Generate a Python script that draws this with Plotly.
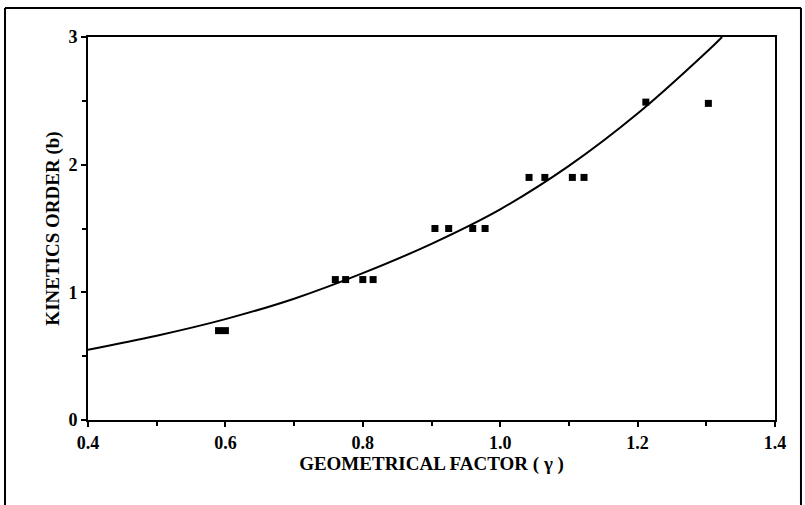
import plotly.graph_objects as go

# Measured kinetics order against geometrical factor
gamma = [0.59, 0.60,
         0.76, 0.775, 0.80, 0.815,
         0.905, 0.925, 0.96, 0.978,
         1.042, 1.065, 1.105, 1.122,
         1.212, 1.303]
order = [0.70, 0.70,
         1.10, 1.10, 1.10, 1.10,
         1.50, 1.50, 1.50, 1.50,
         1.90, 1.90, 1.90, 1.90,
         2.49, 2.48]

# Fitted trend curve
fit_gamma = [0.40, 0.50, 0.60, 0.70, 0.80, 0.90, 1.00, 1.10, 1.20, 1.30, 1.323]
fit_order = [0.55, 0.66, 0.79, 0.95, 1.15, 1.38, 1.65, 1.99, 2.40, 2.88, 3.00]

x_ticks = [0.4, 0.6, 0.8, 1.0, 1.2, 1.4]
x_labels = ["0.4", "0.6", "0.8", "1.0", "1.2", "1.4"]
y_ticks = [0, 1, 2, 3]
y_labels = ["0", "1", "2", "3"]

FONT = "Liberation Serif, Times New Roman, serif"
label_font = dict(family=FONT, size=18, color="black", weight=700)
title_font = dict(family=FONT, size=19, color="black", weight=700)

fig = go.Figure()
fig.add_trace(go.Scatter(
    x=fit_gamma, y=fit_order, mode="lines",
    line=dict(color="black", width=2, shape="spline"),
    showlegend=False,
))
fig.add_trace(go.Scatter(
    x=gamma, y=order, mode="markers",
    marker=dict(symbol="square", size=7, color="black"),
    showlegend=False,
))

fig.update_layout(
    width=805, height=505,
    margin=dict(l=88, r=30, t=37, b=85),
    paper_bgcolor="white", plot_bgcolor="white",
    font=dict(family=FONT, color="black", size=18, weight=700),
    xaxis=dict(
        range=[0.4, 1.4], tickmode="array", tickvals=x_ticks, ticktext=x_labels,
        showline=True, linecolor="black", linewidth=2, mirror=True,
        showgrid=False, zeroline=False,
        ticks="outside", tickcolor="black", tickwidth=2, ticklen=5,
        tickfont=label_font,
        minor=dict(dtick=0.1, ticks="outside", ticklen=4, tickwidth=2, tickcolor="black"),
        title=dict(text="GEOMETRICAL FACTOR ( γ )", standoff=2, font=title_font),
    ),
    yaxis=dict(
        range=[0, 3], tickmode="array", tickvals=y_ticks, ticktext=y_labels,
        showline=True, linecolor="black", linewidth=2, mirror=True,
        showgrid=False, zeroline=False,
        ticks="outside", tickcolor="black", tickwidth=2, ticklen=5,
        tickfont=label_font,
        minor=dict(dtick=0.5, ticks="outside", ticklen=4, tickwidth=2, tickcolor="black"),
        title=dict(text="KINETICS ORDER (b)", standoff=4, font=title_font),
    ),
)

# Outer frame around the figure (open at the bottom)
frame = dict(type="line", xref="paper", yref="paper", line=dict(color="black", width=2))
fig.add_shape(x0=-0.1208, x1=-0.1208, y0=1.0757, y1=-0.25, **frame)
fig.add_shape(x0=-0.1208, x1=1.0378, y0=1.0757, y1=1.0757, **frame)
fig.add_shape(x0=1.0378, x1=1.0378, y0=1.0757, y1=-0.25, **frame)

fig.write_html("out.html")
